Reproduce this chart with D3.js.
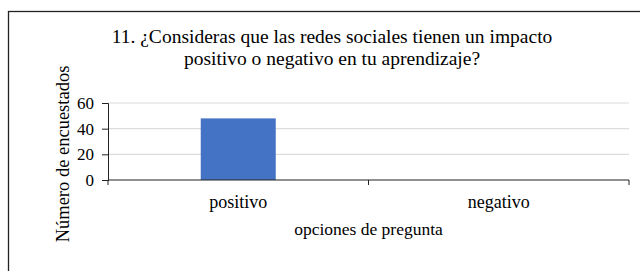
<!DOCTYPE html>
<html>
<head>
<meta charset="utf-8">
<script src="https://cdn.jsdelivr.net/npm/d3@7"></script>
<style>
  body { margin: 0; background: #fff; }
  text { font-family: "Liberation Serif", "Times New Roman", serif; fill: #000; }
</style>
</head>
<body>
<div id="chart"></div>
<script>
const categories = ['positivo', 'negativo'];
const values = [48, 0];
const yTicks = [0, 20, 40, 60];
const titleLines = ['11. ¿Consideras que las redes sociales tienen un impacto', 'positivo o negativo en tu aprendizaje?'];

const width = 640, height = 271;
const margin = {top: 103, right: 11, bottom: 91, left: 108};

const svg = d3.select('#chart').append('svg')
    .attr('width', width)
    .attr('height', height);

// outer frame
svg.append('rect')
    .attr('x', 8.5).attr('y', 11.5)
    .attr('width', 640).attr('height', 300)
    .attr('fill', 'none')
    .attr('stroke', '#222')
    .attr('stroke-width', 1.3);

const x = d3.scaleBand()
    .domain(categories)
    .range([margin.left, width - margin.right]);

const y = d3.scaleLinear()
    .domain([0, 60])
    .range([height - margin.bottom, margin.top]);

// gridlines
svg.append('g')
  .selectAll('line')
  .data(yTicks.filter(d => d > 0))
  .join('line')
    .attr('x1', margin.left).attr('x2', width - margin.right)
    .attr('y1', d => y(d)).attr('y2', d => y(d))
    .attr('stroke', '#dcdcdc')
    .attr('stroke-width', 1.2);

// bars
const barW = 75;
svg.append('g')
  .selectAll('rect')
  .data(categories)
  .join('rect')
    .attr('x', d => x(d) + x.bandwidth() / 2 - barW / 2)
    .attr('y', (d, i) => y(values[i]))
    .attr('width', barW)
    .attr('height', (d, i) => y(0) - y(values[i]))
    .attr('fill', '#4472c4');

// y axis
const yAxis = svg.append('g')
    .attr('transform', `translate(${margin.left},0)`)
    .call(d3.axisLeft(y).tickValues(yTicks).tickSize(6).tickPadding(8));
yAxis.selectAll('text').style('font-size', '17px').style('font-family', '"Liberation Serif", serif');
yAxis.selectAll('line, path').attr('stroke', '#222');

// x axis
const xAxis = svg.append('g')
    .attr('transform', `translate(0,${y(0)})`);
xAxis.append('line')
    .attr('x1', margin.left).attr('x2', width - margin.right)
    .attr('stroke', '#222').attr('stroke-width', 1.2);
xAxis.selectAll('.tk')
  .data([margin.left, x('negativo'), width - margin.right])
  .join('line')
    .attr('class', 'tk')
    .attr('x1', d => d).attr('x2', d => d)
    .attr('y1', 0).attr('y2', 5)
    .attr('stroke', '#222');
xAxis.selectAll('.lbl')
  .data(categories)
  .join('text')
    .attr('class', 'lbl')
    .attr('x', d => x(d) + x.bandwidth() / 2)
    .attr('y', 28)
    .attr('text-anchor', 'middle')
    .style('font-size', '18px')
    .text(d => d);

// axis titles
svg.append('text')
    .attr('x', (margin.left + width - margin.right) / 2)
    .attr('y', 235)
    .attr('text-anchor', 'middle')
    .style('font-size', '17.5px')
    .text('opciones de pregunta');

svg.append('text')
    .attr('transform', 'translate(69,154) rotate(-90)')
    .attr('text-anchor', 'middle')
    .style('font-size', '18.5px')
    .text('Número de encuestados');

// title
svg.append('g')
  .selectAll('text')
  .data(titleLines)
  .join('text')
    .attr('x', 332)
    .attr('y', (d, i) => 43 + i * 22)
    .attr('text-anchor', 'middle')
    .style('font-size', '19.5px')
    .text(d => d);
</script>
</body>
</html>
